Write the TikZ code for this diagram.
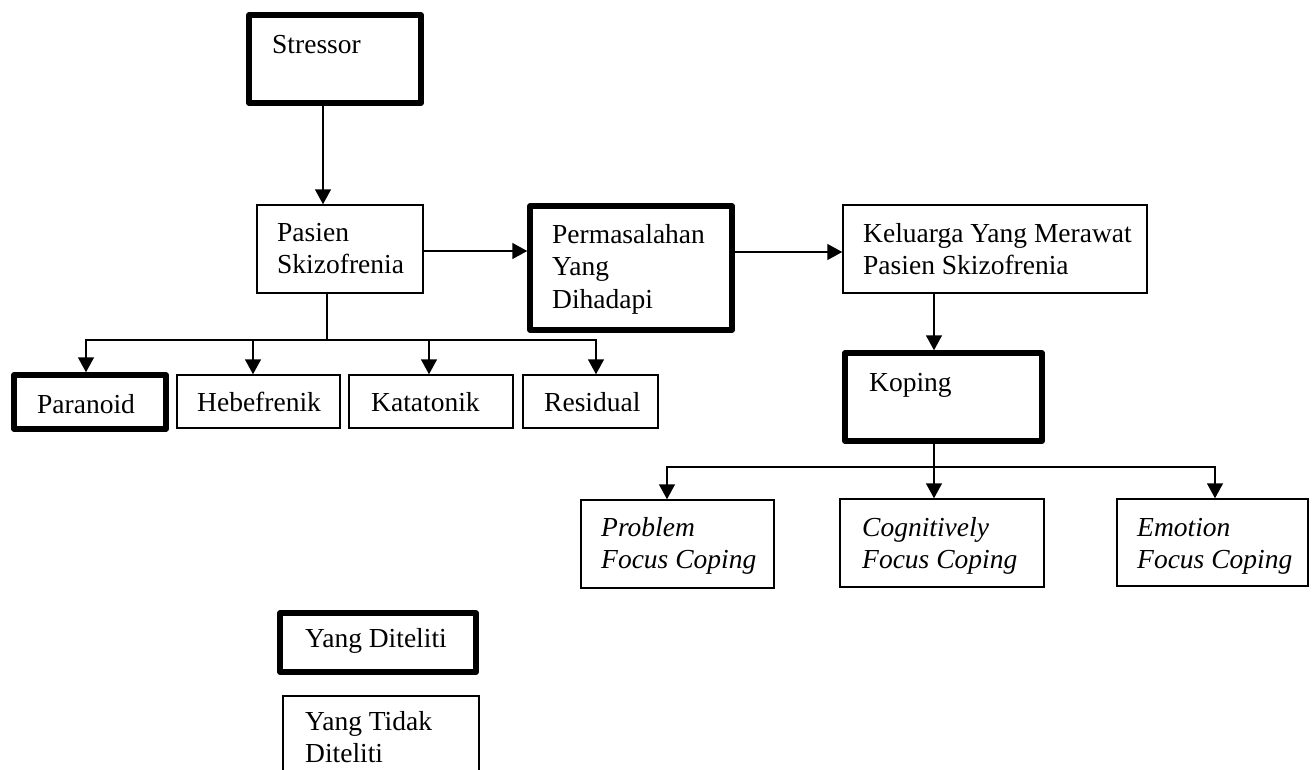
\documentclass[tikz,border=0pt]{standalone}
\usepackage{fontspec}
\setmainfont{Liberation Serif}
\usetikzlibrary{fit,arrows.meta}
\tikzset{
  thinbox/.style={draw=black, line width=1.5pt, inner sep=0pt},
  thickbox/.style={draw=black, line width=5.5pt, inner sep=0pt, line join=round},
  txt/.style={anchor=base west, inner sep=0pt, font=\fontsize{27.5}{32.5}\selectfont},
  conn/.style={draw=black, line width=1.5pt},
  arr/.style={conn, -{Triangle[width=16pt,length=15pt]}},
  arrs/.style={conn, {Triangle[width=16pt,length=15pt]}-{Triangle[width=16pt,length=15pt]}}
}
\newcommand{\lines}[1]{\begin{tabular}[t]{@{}l@{}}#1\end{tabular}}
\begin{document}
\begin{tikzpicture}[x=1pt,y=-1pt]
\useasboundingbox (0,0) rectangle (1315,769);
\clip (0,0) rectangle (1315,769);
% boxes
\node[thickbox, fit={(249,15) (421,103)}] (stressor) {};
\node[thinbox, fit={(257,205) (423,293)}] (pasien) {};
\node[thickbox, fit={(530,206) (732,330)}] (perm) {};
\node[thinbox, fit={(843,205) (1147,293)}] (kel) {};
\node[thickbox, fit={(845,353) (1042,441)}] (koping) {};
\node[thickbox, fit={(14,375) (166,429)}] (paranoid) {};
\node[thinbox, fit={(177,375) (340,428)}] (hebe) {};
\node[thinbox, fit={(349,375) (513,428)}] (kata) {};
\node[thinbox, fit={(523,375) (658,428)}] (resid) {};
\node[thinbox, fit={(581,500) (774,588)}] (prob) {};
\node[thinbox, fit={(840,499) (1044,587)}] (cog) {};
\node[thinbox, fit={(1117,499) (1308,586)}] (emo) {};
\node[thickbox, fit={(280,613) (476,672)}] (dit) {};
\node[thinbox, fit={(283,696) (479,800)}] (tdk) {};
% texts
\node[txt] (stressor-t) at (272,53) {Stressor};
\node[txt] (pasien-t) at (277,241) {\lines{Pasien\\Skizofrenia}};
\node[txt] (perm-t) at (552,243) {\lines{Permasalahan\\Yang\\Dihadapi}};
\node[txt] (kel-t) at (863,242) {\lines{Keluarga Yang Merawat\\Pasien Skizofrenia}};
\node[txt] (koping-t) at (869,391) {Koping};
\node[txt] (paranoid-t) at (37,413) {Paranoid};
\node[txt] (hebe-t) at (197,411) {Hebefrenik};
\node[txt] (kata-t) at (371,411) {Katatonik};
\node[txt] (resid-t) at (544,411) {Residual};
\node[txt] (prob-t) at (601,536) {\itshape\lines{Problem\\Focus Coping}};
\node[txt] (cog-t) at (862,536) {\itshape\lines{Cognitively\\Focus Coping}};
\node[txt] (emo-t) at (1137,536) {\itshape\lines{Emotion\\Focus Coping}};
\node[txt] (dit-t) at (305,647) {Yang Diteliti};
\node[txt] (tdk-t) at (305,730) {\lines{Yang Tidak\\Diteliti}};
% connectors
\coordinate (pb) at (327,340);
\coordinate (kb) at (934,467);
\draw[arr] (stressor.south -| 323,0) -- (pasien.north -| 323,0);
\draw[arr] (pasien.east |- 0,251) -- (perm.west |- 0,251);
\draw[arr] (perm.east |- 0,252) -- (kel.west |- 0,252);
\draw[arr] (kel.south -| kb) -- (koping.north -| kb);
\draw[conn] (pasien.south -| pb) -- (pb);
\draw[arrs] (paranoid.north -| 86,0) |- (pb) -| (resid.north -| 596,0);
\draw[arr] (pb -| 253,0) -- (hebe.north -| 253,0);
\draw[arr] (pb -| 429,0) -- (kata.north -| 429,0);
\draw[arr] (koping.south -| kb) -- (cog.north -| kb);
\draw[arrs] (prob.north -| 667,0) |- (kb) -| (emo.north -| 1215,0);
\end{tikzpicture}
\end{document}
